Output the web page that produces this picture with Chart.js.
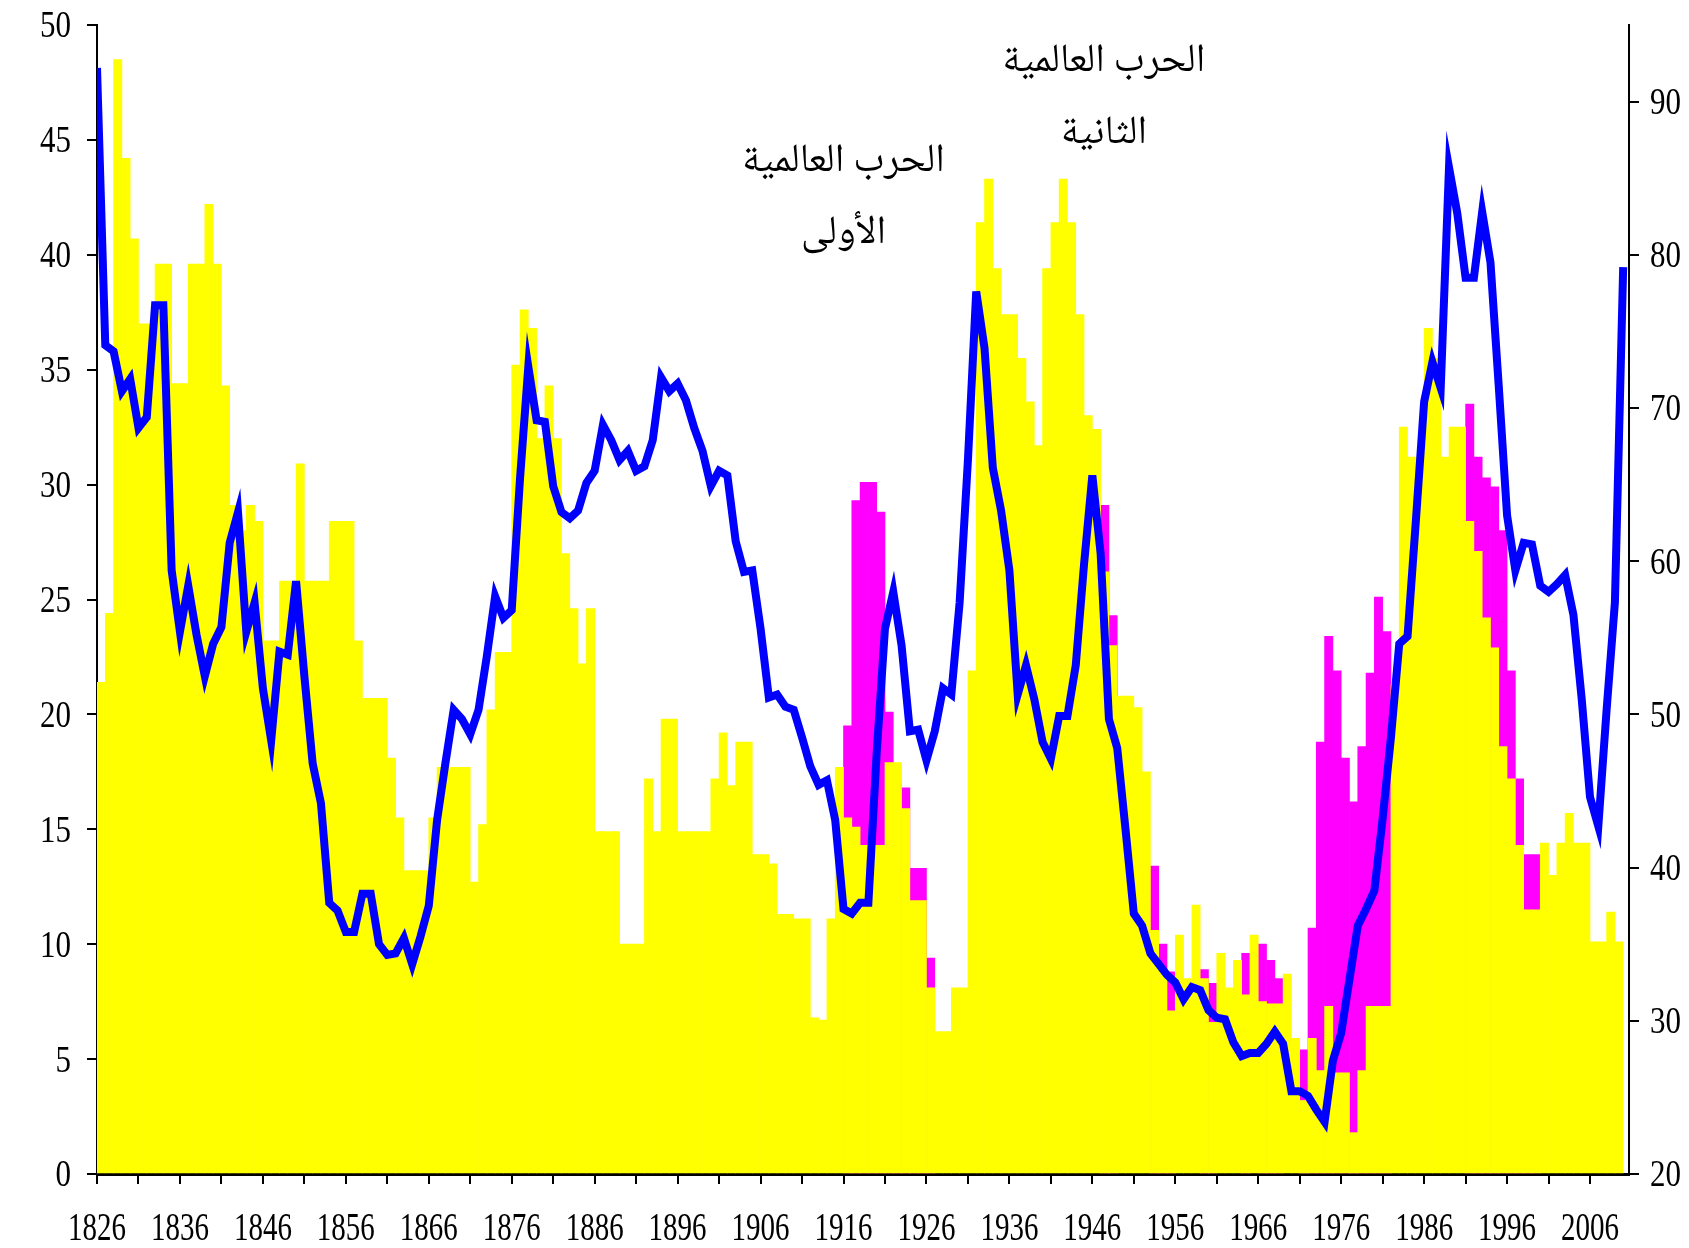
<!DOCTYPE html>
<html>
<head>
<meta charset="utf-8">
<script src="https://cdn.jsdelivr.net/npm/chart.js@4"></script>
<style>
  html, body { margin: 0; padding: 0; background: #ffffff; }
  #wrap { width: 1689px; height: 1248px; position: relative; }
  canvas { display: block; }
</style>
</head>
<body>
<div id="wrap"><canvas id="c" width="1689" height="1248"></canvas></div>
<script>
// ---------------- DATA ----------------
const startYear = 1826;

// yellow bars (left axis), one value per year 1826..2009
const yellowValues = [
  21.4, 24.4, 48.5, 44.2, 40.7, 37.0, 37.0, 39.6, 39.6, 34.4,
  34.4, 39.6, 39.6, 42.2, 39.6, 34.3, 29.1, 28.0, 29.1, 28.4,
  23.2, 23.2, 25.8, 25.8, 30.9, 25.8, 25.8, 25.8, 28.4, 28.4,
  28.4, 23.2, 20.7, 20.7, 20.7, 18.1, 15.5, 13.2, 13.2, 13.2,
  15.5, 17.7, 17.7, 17.7, 17.7, 12.7, 15.2, 20.2, 22.7, 22.7,
  35.2, 37.6, 36.8, 32.0, 34.3, 32.0, 27.0, 24.6, 22.2, 24.6,
  14.9, 14.9, 14.9, 10.0, 10.0, 10.0, 17.2, 14.9, 19.8, 19.8,
  14.9, 14.9, 14.9, 14.9, 17.2, 19.2, 16.9, 18.8, 18.8, 13.9,
  13.9, 13.5, 11.3, 11.3, 11.1, 11.1, 6.8, 6.7, 11.1, 17.7,
  15.5, 15.1, 14.3, 14.3, 14.3, 17.9, 17.9, 15.9, 11.9, 11.9,
  8.1, 6.2, 6.2, 8.1, 8.1, 21.9, 41.4, 43.3, 39.4, 37.4,
  37.4, 35.5, 33.6, 31.7, 39.4, 41.4, 43.3, 41.4, 37.4, 33.0,
  32.4, 26.2, 23.0, 20.8, 20.8, 20.3, 17.5, 10.6, 8.8, 7.1,
  10.4, 8.5, 11.7, 8.5, 6.6, 9.6, 8.1, 9.3, 7.8, 10.4,
  7.5, 7.4, 7.4, 8.7, 5.9, 3.2, 5.9, 4.5, 7.3, 4.4,
  4.4, 1.8, 4.5, 7.3, 7.3, 7.3, 21.3, 32.5, 31.2, 31.2,
  36.8, 35.5, 31.2, 32.5, 32.5, 28.4, 27.1, 24.2, 22.9, 18.6,
  17.2, 14.3, 11.5, 11.5, 14.4, 13.0, 14.4, 15.7, 14.4, 14.4,
  10.1, 10.1, 11.4, 10.1
];

// magenta bars (left axis, drawn behind the yellow ones)
const magentaYears = [
  1916, 1917, 1918, 1919, 1920, 1921, 1922, 1923, 1924, 1925, 1926,
  1947, 1948,
  1953, 1954, 1955,
  1959, 1960,
  1964,
  1966, 1967, 1968,
  1971, 1972, 1973, 1974, 1975, 1976, 1977, 1978, 1979, 1980, 1981,
  1991, 1992, 1993, 1994, 1995, 1996, 1997, 1998, 1999
];
const magentaValues = [
  19.5, 29.3, 30.1, 30.1, 28.8, 20.1, 17.0, 16.8, 13.3, 13.3, 9.4,
  29.1, 24.3,
  13.4, 10.0, 8.8,
  8.9, 8.3,
  9.6,
  10.0, 9.3, 8.5,
  5.4, 10.7, 18.8, 23.4, 21.9, 18.1, 16.2, 18.6, 21.8, 25.1, 23.6,
  33.5, 31.2, 30.3, 29.9, 28.0, 21.9, 17.2, 13.9, 13.9
];

// blue line (right axis), one value per year 1826..2010
const blueValues = [
  92.2, 74.1, 73.7, 71.1, 71.9, 68.7, 69.4, 76.7, 76.7, 59.4,
  55.4, 58.4, 55.2, 52.5, 54.6, 55.7, 61.2, 63.2, 55.4, 57.3,
  51.7, 48.3, 54.1, 53.9, 58.7, 52.5, 46.8, 44.2, 37.7, 37.2,
  35.8, 35.8, 38.3, 38.3, 35.0, 34.3, 34.4, 35.4, 33.7, 35.5,
  37.5, 43.1, 46.8, 50.3, 49.7, 48.7, 50.3, 53.8, 57.7, 56.3,
  56.8, 65.4, 72.7, 69.2, 69.1, 64.9, 63.2, 62.8, 63.3, 65.1,
  65.9, 68.9, 67.9, 66.6, 67.2, 65.9, 66.2, 67.9, 72.0, 71.1,
  71.6, 70.5, 68.7, 67.2, 64.9, 65.9, 65.6, 61.3, 59.3, 59.4,
  55.6, 51.1, 51.3, 50.5, 50.3, 48.5, 46.6, 45.4, 45.7, 43.1,
  37.3, 37.0, 37.7, 37.7, 47.5, 55.6, 58.0, 54.5, 48.9, 49.0,
  47.0, 48.9, 51.7, 51.3, 57.3, 66.6, 77.6, 73.9, 66.1, 63.3,
  59.4, 51.3, 53.2, 51.0, 48.2, 47.1, 49.9, 49.9, 53.2, 59.8,
  65.6, 60.5, 49.7, 47.8, 42.5, 37.0, 36.2, 34.4, 33.7, 33.0,
  32.5, 31.4, 32.2, 32.0, 30.7, 30.2, 30.1, 28.6, 27.7, 27.9,
  27.9, 28.5, 29.3, 28.5, 25.4, 25.4, 25.1, 24.2, 23.4, 27.4,
  29.2, 32.7, 36.2, 37.3, 38.5, 43.2, 48.5, 54.6, 55.1, 62.6,
  70.4, 73.0, 71.3, 85.7, 82.7, 78.5, 78.5, 82.8, 79.5, 71.4,
  63.0, 59.4, 61.2, 61.1, 58.4, 58.0, 58.5, 59.1, 56.5, 51.0,
  44.6, 42.7, 50.3, 57.3, 79.2
];

// tick values and labels
const xTickValues = [];
for (let y = 1826; y <= 2006; y += 5) xTickValues.push(y);
const xLabelYears = [1826, 1836, 1846, 1856, 1866, 1876, 1886, 1896, 1906, 1916, 1926, 1936, 1946, 1956, 1966, 1976, 1986, 1996, 2006];
const leftTickValues = [0, 5, 10, 15, 20, 25, 30, 35, 40, 45, 50];
const rightTickValues = [20, 30, 40, 50, 60, 70, 80, 90];

// annotation texts
const annotationTexts = ['الحرب العالمية', 'الأولى', 'الحرب العالمية', 'الثانية'];

// ---------------- LAYOUT / STYLE ----------------
const annotationPlace = [
  { year: 1916.0, value: 43.85 },
  { year: 1916.0, value: 40.75 },
  { year: 1947.4, value: 48.2 },
  { year: 1947.4, value: 45.1 }
];
const X_FONT = { family: '"Liberation Serif", "Times New Roman", serif', size: 29, stretch: 1.38 };
const Y_FONT = { family: '"Liberation Serif", "Times New Roman", serif', size: 31, stretch: 1.22 };
const ARABIC_FONT = '40px "Noto Naskh Arabic", "Noto Sans Arabic", "DejaVu Sans", sans-serif';

function drawStretched(ctx, text, x, yCenter, f, align) {
  ctx.save();
  ctx.translate(x, yCenter);
  ctx.scale(1, f.stretch);
  ctx.font = f.size + 'px ' + f.family;
  ctx.textAlign = align;
  ctx.textBaseline = 'alphabetic';
  ctx.fillText(text, 0, f.size * 0.33);
  ctx.restore();
}

const labelPlugin = {
  id: 'stretchedLabels',
  afterDraw(chart) {
    const ctx = chart.ctx;
    const xs = chart.scales.x, yl = chart.scales.yL, yr = chart.scales.yR;
    ctx.save();
    ctx.fillStyle = '#000000';
    xLabelYears.forEach(v => drawStretched(ctx, String(v), xs.getPixelForValue(v), xs.top + 53, X_FONT, 'center'));
    leftTickValues.forEach(v => drawStretched(ctx, String(v), yl.right - 26, yl.getPixelForValue(v), Y_FONT, 'right'));
    rightTickValues.forEach(v => drawStretched(ctx, String(v), yr.left + 21, yr.getPixelForValue(v), Y_FONT, 'left'));
    ctx.font = ARABIC_FONT;
    ctx.textAlign = 'center';
    ctx.textBaseline = 'middle';
    annotationTexts.forEach((t, i) => {
      ctx.fillText(t, xs.getPixelForValue(annotationPlace[i].year), yl.getPixelForValue(annotationPlace[i].value));
    });
    ctx.restore();
  }
};

const yellowData = yellowValues.map((v, i) => ({ x: startYear + i + 0.5, y: v }));
const magentaData = magentaYears.map((yr, i) => ({ x: yr + 0.5, y: magentaValues[i] }));
const blueData = blueValues.map((v, i) => ({ x: startYear + i, y: v }));

const axisGrid = { drawOnChartArea: false, drawTicks: true, tickLength: 10, color: '#000000', lineWidth: 2, offset: false };

new Chart(document.getElementById('c').getContext('2d'), {
  data: {
    datasets: [
      {
        type: 'line', data: blueData, xAxisID: 'x', yAxisID: 'yR',
        borderColor: '#0000FF', borderWidth: 8, pointRadius: 0, tension: 0,
        fill: false, order: 0, clip: 0
      },
      {
        type: 'bar', data: yellowData, xAxisID: 'x', yAxisID: 'yL',
        backgroundColor: '#FFFF00', borderWidth: 0, grouped: false,
        barPercentage: 1, categoryPercentage: 1, order: 1
      },
      {
        type: 'bar', data: magentaData, xAxisID: 'x', yAxisID: 'yL',
        backgroundColor: '#FF00FF', borderWidth: 0, grouped: false,
        barPercentage: 1, categoryPercentage: 1, order: 2
      }
    ]
  },
  options: {
    responsive: false,
    animation: false,
    devicePixelRatio: 1,
    layout: { padding: { top: 25, left: 0, right: 0, bottom: 0 } },
    plugins: { legend: { display: false }, tooltip: { enabled: false } },
    scales: {
      x: {
        type: 'linear', position: 'bottom', min: 1826, max: 2010.7, offset: false,
        afterBuildTicks: s => { s.ticks = xTickValues.map(v => ({ value: v })); },
        afterFit: s => { s.height = 74; s.paddingLeft = 0; s.paddingRight = 0; },
        ticks: { display: false },
        grid: axisGrid,
        border: { display: true, color: '#000000', width: 3 }
      },
      yL: {
        type: 'linear', position: 'left', min: 0, max: 50,
        afterBuildTicks: s => { s.ticks = leftTickValues.map(v => ({ value: v })); },
        afterFit: s => { s.width = 97; },
        ticks: { display: false },
        grid: axisGrid,
        border: { display: true, color: '#000000', width: 2 }
      },
      yR: {
        type: 'linear', position: 'right', min: 20, max: 95,
        afterBuildTicks: s => { s.ticks = rightTickValues.map(v => ({ value: v })); },
        afterFit: s => { s.width = 60; },
        ticks: { display: false },
        grid: axisGrid,
        border: { display: true, color: '#000000', width: 2 }
      }
    }
  },
  plugins: [labelPlugin]
});
</script>
</body>
</html>
